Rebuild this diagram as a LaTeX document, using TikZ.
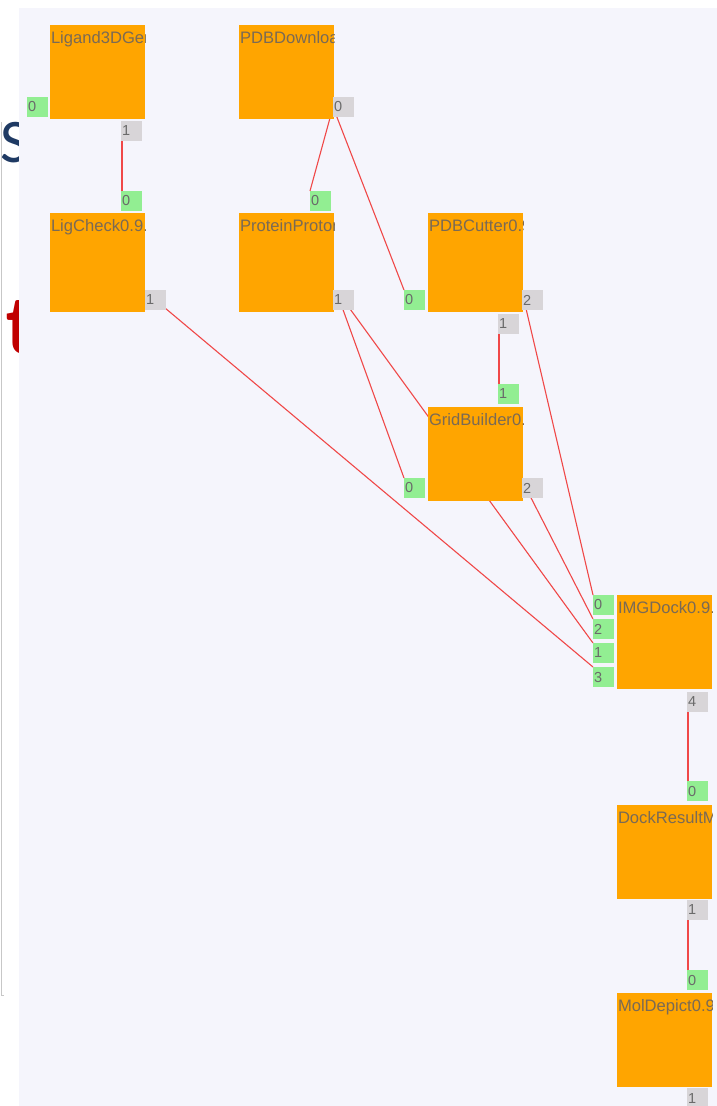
\documentclass[tikz,border=0pt]{standalone}
\usepackage{fontspec}
\setmainfont{Liberation Sans}
\newfontfamily\calib{Carlito}
\pgfdeclarelayer{bgl}
\pgfdeclarelayer{edgel}
\pgfsetlayers{bgl,edgel,main}
\definecolor{panel}{HTML}{F5F5FC}
\definecolor{boxor}{HTML}{FFA500}
\definecolor{pin}{HTML}{92EE92}
\definecolor{pout}{HTML}{D8D5D8}
\definecolor{wire}{HTML}{F04848}
\definecolor{lbl}{HTML}{7A6A55}
\definecolor{ptxt}{HTML}{6A6A6A}
\definecolor{navy}{HTML}{1F3A63}
\definecolor{slred}{HTML}{C00000}
\tikzset{
  unitbox/.style={anchor=north west, fill=boxor, draw=none, minimum width=95pt, minimum height=94pt, inner sep=0pt, outer sep=0pt},
  tallbox/.style={unitbox, minimum height=99pt},
  boxlabel/.style 2 args={path picture={\node[anchor=base west, inner sep=0pt, text=lbl, font=\fontsize{16.6}{16.6}\selectfont] (#1) at ([xshift=1pt,yshift=-18.5pt]path picture bounding box.north west) {#2};}},
  inport/.style={anchor=north west, fill=pin, draw=none, minimum width=21pt, minimum height=20pt, inner xsep=1pt, inner ysep=0pt, outer sep=0pt, text width=19pt, align=left, font=\fontsize{14.5}{14.5}\selectfont, text=ptxt},
  outport/.style={inport, fill=pout},
  wireline/.style={draw=wire, line width=1.1pt},
}
\begin{document}
\begin{tikzpicture}[x=1pt,y=-1pt]
\useasboundingbox (0,0) rectangle (717,1106);
\begin{pgfonlayer}{bgl}
  \fill[white] (0,0) rectangle (717,1106);
  \node[anchor=base west, inner sep=0pt, text=navy, font=\calib\fontsize{62}{62}\selectfont] (sfrag) at (0,162) {S};
  \node[anchor=base west, inner sep=0pt, text=slred, font=\calib\bfseries\fontsize{84}{84}\selectfont] (tfrag) at (6,353) {t};
  \fill[panel] (19,8) rectangle (717,1106);
  \draw[draw=black!22, line width=1pt] (1.5,122) -- (1.5,995) -- (4,995);
\end{pgfonlayer}

% boxes
\node[unitbox, boxlabel={lgt}{Ligand3DGen}] (lg) at (50,25) {};
\node[unitbox, boxlabel={pdt}{PDBDownload}] (pd) at (239,25) {};
\node[tallbox, boxlabel={lct}{LigCheck0.9.}] (lc) at (50,213) {};
\node[tallbox, boxlabel={ppt}{ProteinProton}] (pp) at (239,213) {};
\node[tallbox, boxlabel={pct}{PDBCutter0.9}] (pc) at (428,213) {};
\node[unitbox, boxlabel={gbt}{GridBuilder0.}] (gb) at (428,407) {};
\node[unitbox, boxlabel={imt}{IMGDock0.9.5}] (im) at (617,595) {};
\node[unitbox, boxlabel={drt}{DockResultM}] (dr) at (617,805) {};
\node[unitbox, boxlabel={mdt}{MolDepict0.9}] (md) at (617,993) {};

% ports
\node[inport] (lg0) at (27,97) {0};
\node[outport] (lg1) at (121,121) {1};
\node[outport] (pd0) at (333,97) {0};
\node[inport] (lc0) at (121,191) {0};
\node[outport] (lc1) at (145,290) {1};
\node[inport] (pp0) at (310,191) {0};
\node[outport] (pp1) at (333,290) {1};
\node[inport] (pc0) at (404,290) {0};
\node[outport] (pc2) at (522,290) {2};
\node[outport] (pc1) at (498,314) {1};
\node[inport] (gb1) at (498,384) {1};
\node[inport] (gb0) at (404,478) {0};
\node[outport] (gb2) at (522,478) {2};
\node[inport] (im0) at (593,595) {0};
\node[inport] (im2) at (593,619) {2};
\node[inport] (im1) at (593,643) {1};
\node[inport] (im3) at (593,667) {3};
\node[outport] (im4) at (687,692) {4};
\node[inport] (dr0) at (687,781) {0};
\node[outport] (dr1) at (687,900) {1};
\node[inport] (md0) at (687,970) {0};
\node[outport] (md1) at (687,1088) {1};

% connectors
\begin{pgfonlayer}{edgel}
  \draw[wireline] ([xshift=1pt]lg1.south west) -- ([xshift=1pt]lc0.north west);
  \draw[wireline] (pd0.west) -- (pp0.north west);
  \draw[wireline] (pd0.west) -- (pc0.north west);
  \draw[wireline] ([xshift=1pt]pc1.south west) -- ([xshift=1pt]gb1.north west);
  \draw[wireline] ([xshift=-4pt]pp1.center) -- (gb0.north west);
  \draw[wireline] (pp1.center) -- (im1.north west);
  \draw[wireline] (lc1.center) -- (im3.north west);
  \draw[wireline] ([xshift=2pt]pc2.west) -- (im0.north west);
  \draw[wireline] ([xshift=4pt]gb2.west) -- (im2.north west);
  \draw[wireline] ([xshift=1pt]im4.south west) -- ([xshift=1pt]dr0.north west);
  \draw[wireline] ([xshift=1pt]dr1.south west) -- ([xshift=1pt]md0.north west);
\end{pgfonlayer}
\end{tikzpicture}
\end{document}
